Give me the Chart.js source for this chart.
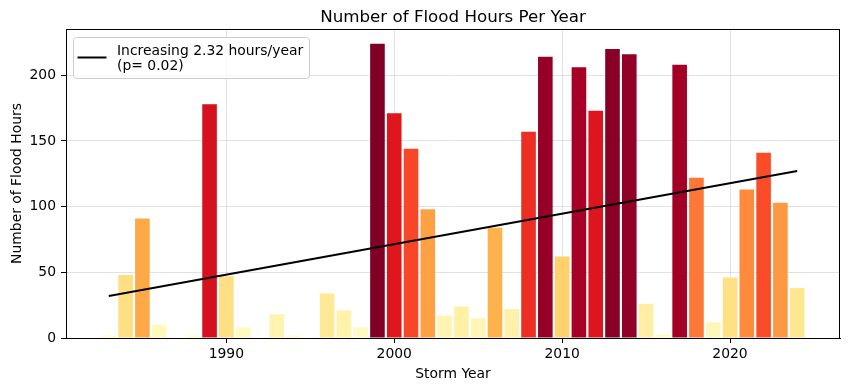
<!DOCTYPE html>
<html>
<head>
<meta charset="utf-8">
<script src="https://cdn.jsdelivr.net/npm/chart.js@4.4.1/dist/chart.umd.min.js"></script>
<style>
  html, body { margin: 0; padding: 0; background: #ffffff; }
  #c { display: block; }
</style>
</head>
<body>
<canvas id="c" width="850" height="391"></canvas>
<script>
// ---- data ----
const years = [1983,1984,1985,1986,1988,1989,1990,1991,1993,1994,1996,1997,1998,1999,2000,2001,2002,2003,2004,2005,2006,2007,2008,2009,2010,2011,2012,2013,2014,2015,2016,2017,2018,2019,2020,2021,2022,2023,2024];
const floodHours = [2,48,91,10,2,178,47,8,18,2,34,21,8,224,171,144,98,17,24,15,84,22,157,214,62,206,173,220,216,26,3,208,122,12,46,113,141,103,38];
const trendYears = [1983, 2024];
const trendHours = [32, 127.1];
const xTicks = [1990, 2000, 2010, 2020];
const yTicks = [0, 50, 100, 150, 200];
const titleText = 'Number of Flood Hours Per Year';
const legendLines = ['Increasing 2.32 hours/year', '(p= 0.02)'];
const xLabel = 'Storm Year';
const yLabel = 'Number of Flood Hours';

// ---- YlOrRd colormap ----
const ylorrd = ['#ffffcc','#ffeda0','#fed976','#feb24c','#fd8d3c','#fc4e2a','#e31a1c','#bd0026','#800026'];
function hexToRgb(h){ return [parseInt(h.slice(1,3),16),parseInt(h.slice(3,5),16),parseInt(h.slice(5,7),16)]; }
function cmap(t){
  t = Math.max(0, Math.min(1, t));
  const p = t * (ylorrd.length - 1);
  const i = Math.min(Math.floor(p), ylorrd.length - 2);
  const f = p - i;
  const a = hexToRgb(ylorrd[i]), b = hexToRgb(ylorrd[i+1]);
  const c = a.map((v,k)=>Math.round(v + (b[k]-v)*f));
  return 'rgb(' + c.join(',') + ')';
}
const maxH = Math.max(...floodHours);
const barColors = floodHours.map(v => cmap(v / maxH));

const FONT = "'DejaVu Sans', sans-serif";
const FS = 13.9;

const framePlugin = {
  id: 'frame',
  afterDraw(chart) {
    const ctx = chart.ctx, a = chart.chartArea;
    ctx.save();
    // spines
    ctx.strokeStyle = '#000';
    ctx.lineWidth = 1;
    ctx.strokeRect(a.left + 0.5, a.top + 0.5, a.right - a.left - 1, a.bottom - a.top);
    // title
    ctx.fillStyle = '#000';
    ctx.font = '16.7px ' + FONT;
    ctx.textAlign = 'center';
    ctx.textBaseline = 'alphabetic';
    ctx.fillText(titleText, (a.left + a.right) / 2, 22);
    // legend
    const bx = a.left + 7.5, by = a.top + 8.5, bw = 236, bh = 41, r = 3;
    ctx.beginPath();
    ctx.moveTo(bx + r, by);
    ctx.lineTo(bx + bw - r, by); ctx.quadraticCurveTo(bx + bw, by, bx + bw, by + r);
    ctx.lineTo(bx + bw, by + bh - r); ctx.quadraticCurveTo(bx + bw, by + bh, bx + bw - r, by + bh);
    ctx.lineTo(bx + r, by + bh); ctx.quadraticCurveTo(bx, by + bh, bx, by + bh - r);
    ctx.lineTo(bx, by + r); ctx.quadraticCurveTo(bx, by, bx + r, by);
    ctx.closePath();
    ctx.fillStyle = 'rgba(255,255,255,0.8)';
    ctx.fill();
    ctx.strokeStyle = '#cccccc';
    ctx.lineWidth = 1;
    ctx.stroke();
    ctx.beginPath();
    ctx.moveTo(a.left + 11.5, a.top + 28.5);
    ctx.lineTo(a.left + 40.5, a.top + 28.5);
    ctx.strokeStyle = '#000';
    ctx.lineWidth = 2;
    ctx.stroke();
    ctx.fillStyle = '#000';
    ctx.font = FS + 'px ' + FONT;
    ctx.textAlign = 'left';
    ctx.fillText(legendLines[0], a.left + 51, 55);
    ctx.fillText(legendLines[1], a.left + 51, 69.5);
    ctx.restore();
  }
};

new Chart(document.getElementById('c'), {
  type: 'bar',
  data: {
    datasets: [
      {
        type: 'line',
        label: legendLines.join(' '),
        data: trendYears.map((x, i) => ({ x: x, y: trendHours[i] })),
        borderColor: '#000',
        borderWidth: 2,
        pointRadius: 0,
        fill: false,
        order: 0
      },
      {
        type: 'bar',
        label: 'Flood hours',
        data: years.map((x, i) => ({ x: x, y: floodHours[i] })),
        backgroundColor: barColors,
        borderWidth: 0,
        barPercentage: 0.87,
        categoryPercentage: 1.0,
        order: 1
      }
    ]
  },
  options: {
    responsive: false,
    animation: false,
    devicePixelRatio: 1,
    layout: { padding: { left: 0, right: 10, top: 29, bottom: 0 } },
    plugins: { legend: { display: false }, tooltip: { enabled: false }, title: { display: false } },
    scales: {
      x: {
        type: 'linear',
        min: 1980.45,
        max: 2026.55,
        offset: false,
        z: 1,
        afterBuildTicks(scale) { scale.ticks = xTicks.map(v => ({ value: v })); },
        afterFit(scale) { scale.height = 53; },
        grid: { offset: false, color: 'rgba(160,160,160,0.3)', lineWidth: 1, drawTicks: true, tickLength: 5, tickColor: '#000', tickWidth: 1 },
        border: { display: true, color: '#000', width: 1 },
        ticks: { color: '#000', font: { family: FONT, size: FS }, padding: 3, maxRotation: 0, callback: v => String(v) },
        title: { display: true, text: xLabel, color: '#000', font: { family: FONT, size: FS }, padding: { top: 0, bottom: 8 } }
      },
      y: {
        type: 'linear',
        min: 0,
        max: 235.2,
        z: 1,
        afterBuildTicks(scale) { scale.ticks = yTicks.map(v => ({ value: v })); },
        afterFit(scale) { scale.width = 66; },
        grid: { offset: false, color: 'rgba(160,160,160,0.3)', lineWidth: 1, drawTicks: true, tickLength: 5, tickColor: '#000', tickWidth: 1 },
        border: { display: true, color: '#000', width: 1 },
        ticks: { color: '#000', font: { family: FONT, size: FS }, padding: 5, callback: v => String(v) },
        title: { display: true, text: yLabel, color: '#000', font: { family: FONT, size: FS }, padding: { top: 9, bottom: 0 } }
      }
    }
  },
  plugins: [framePlugin]
});
</script>
</body>
</html>
